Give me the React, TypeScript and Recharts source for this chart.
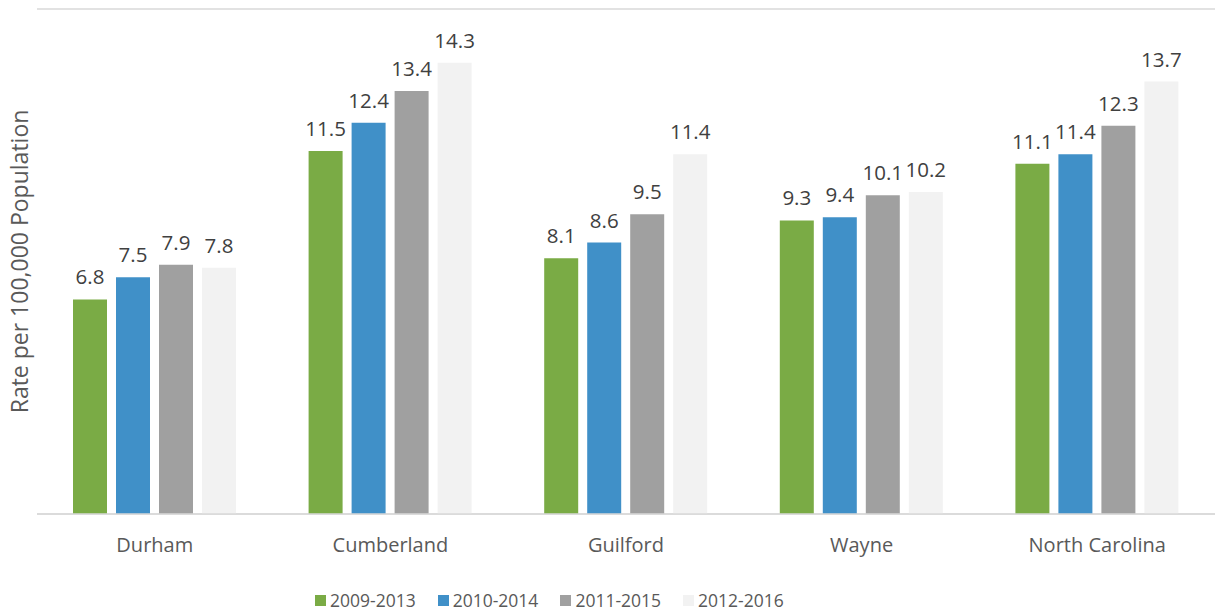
import React from "react";
import { BarChart, Bar, XAxis, YAxis, CartesianGrid, Legend, LabelList } from "recharts";

const categories = ["Durham", "Cumberland", "Guilford", "Wayne", "North Carolina"];
const s2009_2013 = [6.8, 11.5, 8.1, 9.3, 11.1];
const s2010_2014 = [7.5, 12.4, 8.6, 9.4, 11.4];
const s2011_2015 = [7.9, 13.4, 9.5, 10.1, 12.3];
const s2012_2016 = [7.8, 14.3, 11.4, 10.2, 13.7];
const yTicks = [0, 2, 4, 6, 8, 10, 12, 14, 16];

const seriesNames = ["2009-2013", "2010-2014", "2011-2015", "2012-2016"];
const seriesColors = ["#7AAB45", "#4090C8", "#A0A0A0", "#F2F2F2"];
const seriesValues = [s2009_2013, s2010_2014, s2011_2015, s2012_2016];

const data = categories.map((c, i) => {
  const row: Record<string, string | number> = { name: c };
  seriesNames.forEach((s, j) => {
    row[s] = seriesValues[j][i];
  });
  return row;
});

const FONT = "'Open Sans', sans-serif";

const LegendContent = () => (
  <div style={{ display: "flex", alignItems: "center", fontFamily: FONT, fontSize: 17.5, color: "#595959", whiteSpace: "nowrap" }}>
    {seriesNames.map((s, i) => (
      <div key={s} style={{ display: "flex", alignItems: "center", marginRight: i < seriesNames.length - 1 ? 22 : 0 }}>
        <span style={{ display: "inline-block", width: 11, height: 11, background: seriesColors[i], marginRight: 4 }} />
        <span>{s}</span>
      </div>
    ))}
  </div>
);

export default function App() {
  return (
    <div style={{ position: "absolute", left: 0, top: 0, width: 1215, height: 611, background: "#fff" }}>
      <BarChart
        width={1215}
        height={611}
        data={data}
        margin={{ top: 9, right: 0, left: 0, bottom: 57 }}
        barSize={34}
        barGap={9}
      >
        <CartesianGrid vertical={false} stroke="#D9D9D9" strokeWidth={1.5} />
        <YAxis
          width={37}
          domain={[0, 16]}
          ticks={yTicks}
          tick={false}
          axisLine={false}
          tickLine={false}
          label={{
            value: "Rate per 100,000 Population",
            angle: -90,
            position: "insideLeft",
            offset: 20,
            style: { textAnchor: "middle", fontFamily: FONT, fontSize: 23, fill: "#595959" },
          }}
        />
        <XAxis
          dataKey="name"
          height={40}
          axisLine={{ stroke: "#D9D9D9", strokeWidth: 1.5 }}
          tickLine={false}
          tickMargin={18}
          tick={{ fontFamily: FONT, fontSize: 20, fill: "#595959" }}
        />
        <Legend
          layout="horizontal"
          verticalAlign="middle"
          align="center"
          content={<LegendContent />}
          wrapperStyle={{ top: 588, left: 315, width: "auto", height: 26 }}
        />
        {seriesNames.map((s, i) => (
          <Bar key={s} dataKey={s} fill={seriesColors[i]} isAnimationActive={false}>
            <LabelList
              dataKey={s}
              position="top"
              offset={15}
              style={{ fontFamily: FONT, fontSize: 20.5, fill: "#404040" }}
            />
          </Bar>
        ))}
      </BarChart>
    </div>
  );
}
